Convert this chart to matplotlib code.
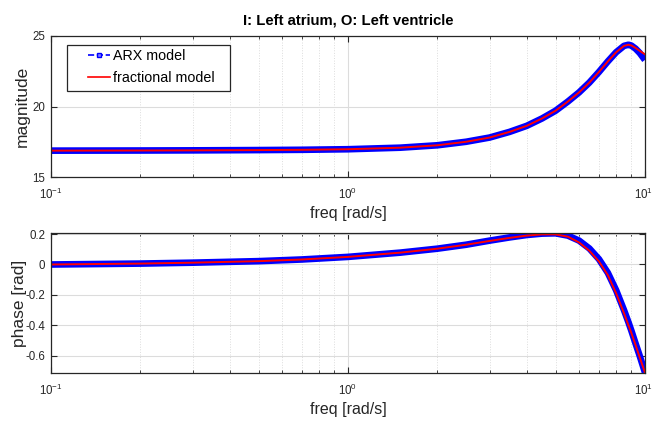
import matplotlib
matplotlib.use("Agg")
import matplotlib.pyplot as plt
from matplotlib.lines import Line2D
from matplotlib.patches import Rectangle
from matplotlib.ticker import LogLocator
from matplotlib.transforms import ScaledTranslation

plt.rcParams['font.family'] = ['Liberation Sans', 'DejaVu Sans']
plt.rcParams['mathtext.default'] = 'regular'

# frequency response samples
freq = [0.1, 0.2, 0.3, 0.5, 0.7, 1.0, 1.5, 2.0, 2.5, 3.0, 3.5, 4.0, 4.5,
        5.0, 5.5, 6.0, 6.5, 7.0, 7.5, 8.0, 8.5, 8.8, 9.0, 9.3, 9.6, 10.0]

mag_arx = [16.87, 16.88, 16.89, 16.91, 16.93, 16.97, 17.08, 17.25, 17.5, 17.8,
           18.2, 18.63, 19.15, 19.7, 20.35, 21.0, 21.7, 22.45, 23.2, 23.85,
           24.3, 24.38, 24.32, 24.1, 23.8, 23.3]
mag_frac = [16.87, 16.88, 16.89, 16.91, 16.93, 16.97, 17.08, 17.25, 17.5, 17.8,
            18.2, 18.63, 19.15, 19.7, 20.35, 21.0, 21.7, 22.45, 23.2, 23.85,
            24.3, 24.38, 24.33, 24.15, 23.95, 23.7]

ph_arx = [0.0, 0.006, 0.012, 0.022, 0.033, 0.05, 0.078, 0.104, 0.13, 0.157,
          0.178, 0.194, 0.203, 0.205, 0.19, 0.157, 0.105, 0.035, -0.055, -0.17,
          -0.30, -0.38, -0.435, -0.52, -0.60, -0.71]
ph_frac = [0.0, 0.006, 0.012, 0.022, 0.033, 0.05, 0.078, 0.104, 0.13, 0.155,
           0.175, 0.19, 0.198, 0.198, 0.183, 0.145, 0.09, 0.02, -0.07, -0.19,
           -0.32, -0.40, -0.45, -0.53, -0.61, -0.71]

xtick_vals = [0.1, 1, 10]
xtick_text = ['$10^{-1}$', '$10^{0}$', '$10^{1}$']

fig = plt.figure(figsize=(6.52, 4.25), dpi=100)
ax1 = fig.add_axes([0.0782, 0.5835, 0.911, 0.3318])
ax2 = fig.add_axes([0.0782, 0.1224, 0.911, 0.329])

dark = '#262626'


def style_axes(ax):
    ax.set_xscale('log')
    ax.set_xlim(0.1, 10)
    ax.set_xticks(xtick_vals)
    ax.set_xticklabels(xtick_text)
    ax.xaxis.set_minor_locator(LogLocator(base=10, subs=range(2, 10)))
    ax.grid(True, which='major', color='#dcdcdc', lw=0.8)
    ax.grid(True, which='minor', color='#dcdcdc', lw=0.7, ls=':')
    ax.set_axisbelow(True)
    ax.tick_params(which='both', direction='in', top=True, right=True,
                   labelsize=8.3, colors=dark)
    ax.tick_params(which='major', length=4)
    ax.tick_params(axis='x', which='major', pad=7)
    ax.tick_params(axis='y', which='major', pad=4)
    ax.tick_params(which='minor', length=2.5)
    for s in ax.spines.values():
        s.set_color(dark)
        s.set_linewidth(0.9)
    # keep the right-most decade label inside the figure
    last = ax.get_xticklabels()[-1]
    last.set_horizontalalignment('right')
    last.set_transform(last.get_transform() + ScaledTranslation(6 / 72, 0, fig.dpi_scale_trans))
    ax.set_xlabel('freq [rad/s]', fontsize=11.5, color=dark, labelpad=3)


ax1.plot(freq, mag_arx, '-', color='blue', lw=4.8, solid_capstyle='butt')
ax1.plot(freq, mag_frac, '-', color='red', lw=1.4)
style_axes(ax1)
ax1.set_ylim(15, 25)
ax1.set_yticks([15, 20, 25])
ax1.set_ylabel('magnitude', fontsize=12.5, color=dark)
ax1.yaxis.set_label_coords(-0.036, 0.5)
ax1.set_title('I: Left atrium, O: Left ventricle', fontsize=10.7,
              fontweight='bold', pad=8)

# legend frame
ax1.add_patch(Rectangle((0.0269, 0.610), 0.2744, 0.326, transform=ax1.transAxes,
                        facecolor='white', edgecolor=dark, lw=0.9, zorder=5))
handles = [Line2D([], [], color='blue', ls='--', lw=1.2, marker='s', ms=3.2,
                  mfc='#7f7fff', mec='blue'),
           Line2D([], [], color='red', lw=1.2)]
leg = ax1.legend(handles, ['ARX model', 'fractional model'], loc='upper left',
                 bbox_to_anchor=(0.062, 0.905), fontsize=10.3, frameon=False,
                 borderaxespad=0, borderpad=0, handlelength=1.55,
                 handletextpad=0.2, labelspacing=0.5)
leg.set_zorder(6)

ax2.plot(freq, ph_arx, '-', color='blue', lw=4.8, solid_capstyle='butt')
ax2.plot(freq, ph_frac, '-', color='red', lw=1.4)
style_axes(ax2)
ax2.set_ylim(-0.713, 0.206)
ax2.set_yticks([-0.6, -0.4, -0.2, 0, 0.2])
ax2.set_yticklabels(['-0.6', '-0.4', '-0.2', '0', '0.2'])
ax2.set_ylabel('phase [rad]', fontsize=12.5, color=dark)
ax2.yaxis.set_label_coords(-0.04, 0.5)

fig.savefig('out.png', dpi=100)
